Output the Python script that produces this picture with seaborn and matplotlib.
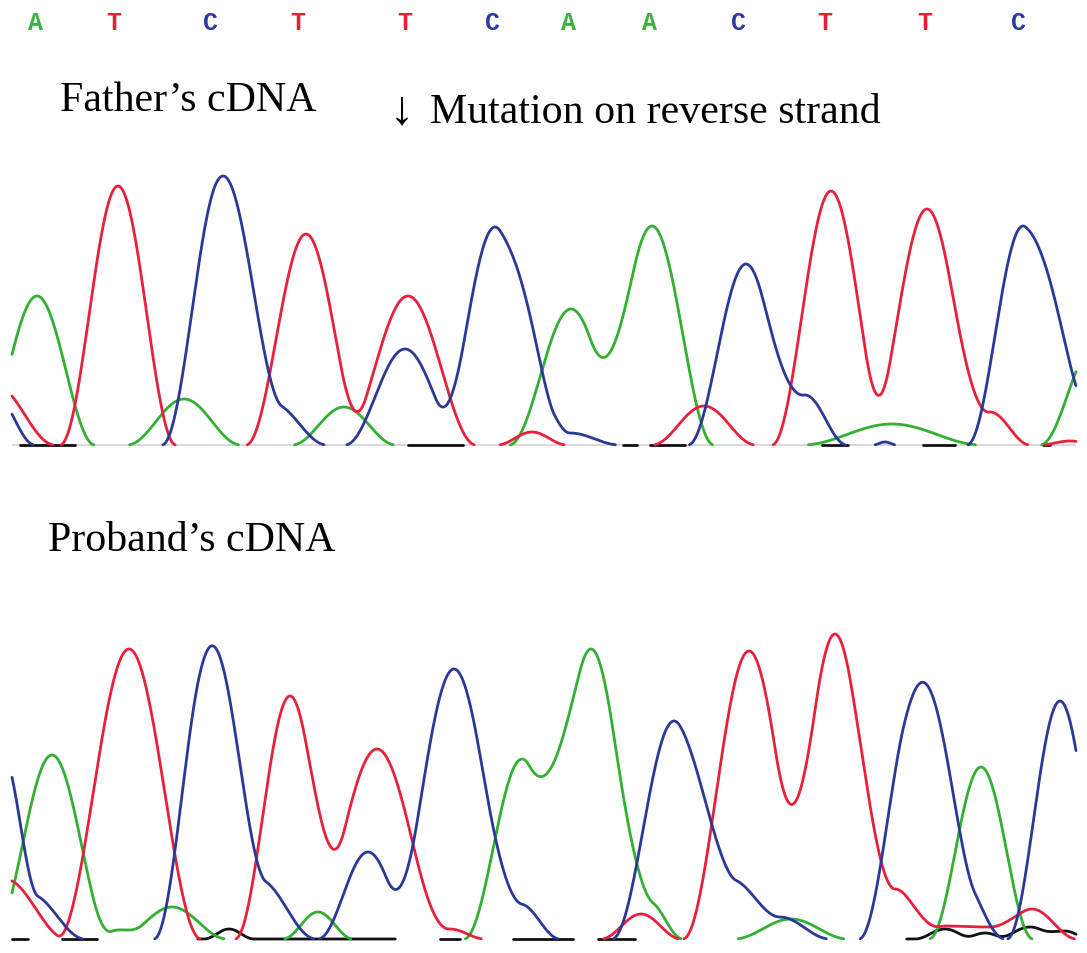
import numpy as np
import pandas as pd
import matplotlib
matplotlib.use("Agg")
import matplotlib.pyplot as plt
import seaborn as sns

# ---------------- data ----------------
base_calls = list("ATCTTCAACTTC")
base_call_x = [35, 114, 211, 298, 405, 492, 568, 650, 738, 825, 925, 1018]

# Father's trace: peak position, peak height, half-base width (trace units)
father_A_pos = [37, 184, 344, 571, 652, 892, 1095]
father_A_height = [149, 46, 38, 136, 219, 21, 100]
father_A_width = [58, 57, 52, 62, 62, 90, 55]
father_T_pos = [-5, 118, 306, 408, 532, 704, 831, 927, 990, 1070]
father_T_height = [60, 259, 211, 149, 13, 39, 254, 236, 33, 4]
father_T_width = [60, 58, 60, 68, 35, 52, 59, 62, 40, 30]
father_C_pos = [-5, 222, 272, 405, 495, 535, 570, 746, 805, 885, 1023, 1065]
father_C_height = [50, 268, 42, 96, 218, 50, 12, 181, 50, 3, 219, 70]
father_C_width = [40, 60, 55, 60, 60, 35, 50, 58, 42, 12, 56, 40]
father_G_pos = []
father_G_height = []
father_G_width = []
father_G_segments = [(20, 75), (408, 463), (623, 637), (650, 685), (822, 848), (923, 955), (1043, 1050)]

# Proband's trace
proband_A_pos = [52, 118, 172, 318, 522, 591, 648, 791, 981]
proband_A_height = [184, 9, 32, 27, 180, 290, 38, 20, 172]
proband_A_width = [60, 25, 55, 35, 58, 62, 35, 57, 52]
proband_T_pos = [5, 129, 290, 377, 450, 641, 749, 835, 895, 945, 985, 1032]
proband_T_height = [60, 290, 243, 190, 10, 25, 288, 305, 50, 13, 12, 30]
proband_T_width = [62, 72, 55, 72, 35, 40, 66, 60, 45, 40, 40, 45]
proband_C_pos = [0, 30, 210, 258, 368, 454, 520, 674, 730, 780, 917, 955, 1060]
proband_C_height = [165, 45, 288, 60, 87, 270, 35, 218, 60, 22, 243, 70, 238]
proband_C_width = [38, 55, 56, 58, 50, 68, 40, 62, 50, 50, 58, 50, 53]
proband_G_pos = [229, 945, 985, 1030, 1065]
proband_G_height = [10, 10, 6, 12, 8]
proband_G_width = [25, 30, 25, 35, 25]
proband_G_segments = [(12, 28), (62, 97), (198, 395), (440, 460), (513, 573), (598, 635), (907, 1076)]

channel_colors = {"A": "#33b033", "T": "#e8203c", "C": "#2b3898", "G": "#111111"}
letter_colors = {"A": "#3cb43c", "T": "#e52030", "C": "#2c3aa0"}

W, H = 1087, 954
x_grid = np.linspace(12, 1076, 2200)


def trace(pos, hei, wid):
    y = np.zeros_like(x_grid)
    for c, h, w in zip(pos, hei, wid):
        d = (x_grid - c) / w
        inside = np.abs(d) < 1
        y[inside] += h * np.cos(np.pi / 2 * d[inside]) ** 2
    return y


def segments_df(y, channel, mask):
    m = mask.copy()
    m[1:] |= mask[:-1]
    m[:-1] |= mask[1:]
    rows = []
    seg = 0
    prev = False
    for i in range(len(x_grid)):
        if m[i]:
            if not prev:
                seg += 1
            rows.append((x_grid[i], y[i], channel, f"{channel}{seg}"))
        prev = m[i]
    return pd.DataFrame(rows, columns=["x", "y", "channel", "seg"])


def panel_df(A, T, C, G, g_segments):
    frames = []
    yg = trace(*G)
    gmask = np.zeros_like(x_grid, dtype=bool)
    for a, b in g_segments:
        gmask |= (x_grid >= a) & (x_grid <= b)
    frames.append(segments_df(yg, "G", gmask))
    for name, params in (("A", A), ("T", T), ("C", C)):
        y = trace(*params)
        frames.append(segments_df(y, name, y > 0.3))
    return pd.concat(frames, ignore_index=True)


sns.set_theme(style="white")
plt.rcParams["font.family"] = ["Liberation Serif", "DejaVu Serif"]
plt.rcParams["text.color"] = "black"

fig = plt.figure(figsize=(W / 100, H / 100), dpi=100)
fig.patch.set_facecolor("white")

panels = [
    (150, 460, 446,
     (father_A_pos, father_A_height, father_A_width),
     (father_T_pos, father_T_height, father_T_width),
     (father_C_pos, father_C_height, father_C_width),
     (father_G_pos, father_G_height, father_G_width),
     father_G_segments, True),
    (610, 950, 940,
     (proband_A_pos, proband_A_height, proband_A_width),
     (proband_T_pos, proband_T_height, proband_T_width),
     (proband_C_pos, proband_C_height, proband_C_width),
     (proband_G_pos, proband_G_height, proband_G_width),
     proband_G_segments, False),
]

for top, bot, base, A, T, C, G, gseg, grayline in panels:
    ax = fig.add_axes([0, (H - bot) / H, 1, (bot - top) / H])
    ax.set_xlim(0, W)
    ax.set_ylim(-(bot - base), base - top)
    ax.axis("off")
    if grayline:
        ax.hlines(0, x_grid.min(), x_grid.max(), color="#d6d6d6", lw=1.3, zorder=0)
    df = panel_df(A, T, C, G, gseg)
    sns.lineplot(data=df, x="x", y="y", hue="channel", units="seg",
                 estimator=None, sort=False, palette=channel_colors,
                 hue_order=["G", "A", "T", "C"], linewidth=2.0,
                 legend=False, ax=ax)

for b, bx in zip(base_calls, base_call_x):
    fig.text(bx / W, 1 - 23 / H, b, color=letter_colors[b], ha="center", va="center",
             fontsize=18, fontweight="bold", family=["Liberation Mono", "DejaVu Sans Mono"])

fs = 30.2
fig.text(60 / W, 1 - 111 / H, "Father\u2019s cDNA", fontsize=fs, va="baseline", ha="left", color="black")
fig.text(402 / W, 1 - 124 / H, "\u2193", fontsize=fs * 1.15, va="baseline", ha="center", color="black")
fig.text(430 / W, 1 - 123 / H, "Mutation on reverse strand", fontsize=fs, va="baseline", ha="left", color="black")
fig.text(48 / W, 1 - 551 / H, "Proband\u2019s cDNA", fontsize=fs, va="baseline", ha="left", color="black")

fig.savefig("out.png", dpi=100, facecolor="white")
